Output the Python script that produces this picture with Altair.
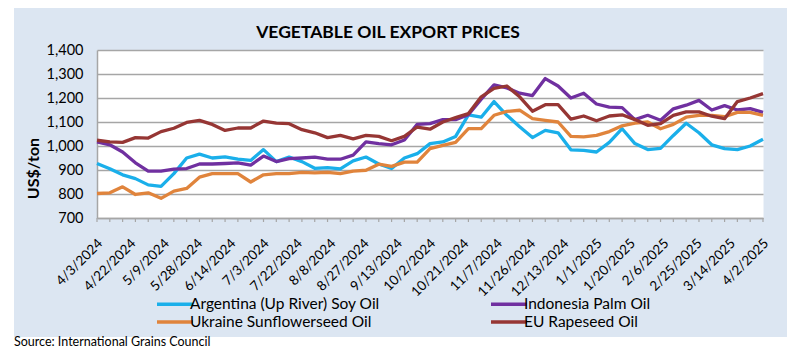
import altair as alt
import pandas as pd

# business-day index (0 = 4/3/2024 ... 260 = 4/2/2025), sampled every 5 days
day_index = list(range(0, 261, 5))

argentina = [927, 905, 880, 864, 838, 832, 885, 950, 966, 950,
             955, 945, 940, 985, 935, 954, 935, 907, 910, 905,
             938, 954, 925, 906, 950, 968, 1010, 1017, 1040, 1130,
             1120, 1185, 1128, 1080, 1035, 1065, 1055, 984, 982, 975,
             1015, 1072, 1010, 985, 990, 1044, 1095, 1055, 1005, 989,
             985, 1000, 1028]
indonesia = [1017, 1005, 975, 930, 895, 895, 904, 906, 925, 925,
             927, 930, 920, 958, 935, 947, 950, 954, 945, 945,
             962, 1017, 1010, 1005, 1025, 1090, 1093, 1110, 1110, 1130,
             1195, 1255, 1242, 1220, 1210, 1281, 1250, 1200, 1220, 1175,
             1162, 1160, 1110, 1128, 1107, 1155, 1170, 1190, 1150, 1168,
             1150, 1156, 1140]
ukraine = [802, 805, 830, 798, 805, 782, 812, 823, 870, 885,
           885, 885, 850, 880, 885, 885, 890, 888, 890, 885,
           895, 899, 924, 915, 933, 933, 989, 1003, 1015, 1072,
           1072, 1128, 1144, 1149, 1114, 1107, 1100, 1040, 1038, 1044,
           1060, 1084, 1095, 1100, 1072, 1090, 1120, 1128, 1128, 1122,
           1140, 1140, 1128]
eu_rapeseed = [1024, 1017, 1015, 1035, 1033, 1060, 1074, 1098, 1107, 1090,
               1065, 1075, 1075, 1104, 1095, 1093, 1068, 1055, 1035, 1044,
               1030, 1044, 1040, 1022, 1040, 1079, 1070, 1100, 1118, 1135,
               1205, 1240, 1250, 1205, 1145, 1172, 1172, 1112, 1125, 1105,
               1125, 1130, 1110, 1086, 1093, 1128, 1142, 1142, 1124, 1114,
               1185, 1200, 1218]

date_labels = ["4/3/2024", "4/22/2024", "5/9/2024", "5/28/2024", "6/14/2024",
               "7/3/2024", "7/22/2024", "8/8/2024", "8/27/2024", "9/13/2024",
               "10/2/2024", "10/21/2024", "11/7/2024", "11/26/2024", "12/13/2024",
               "1/1/2025", "1/20/2025", "2/6/2025", "2/25/2025", "3/14/2025",
               "4/2/2025"]
label_step = 13
minor_ticks = list(range(0, 261, 5))

series_names = ["Argentina (Up River) Soy Oil", "Indonesia Palm Oil",
                "Ukraine Sunflowerseed Oil", "EU Rapeseed Oil"]
series_colors = ["#1AAFEA", "#7030A0", "#E0843C", "#963634"]
series_values = [argentina, indonesia, ukraine, eu_rapeseed]
# legend fills column by column: left column Argentina/Ukraine, right column Indonesia/EU
legend_order = [0, 2, 1, 3]

for v in series_values:
    assert len(v) == len(day_index)

rows = []
for name, vals in zip(series_names, series_values):
    for i, v in zip(day_index, vals):
        rows.append({"idx": i, "value": v, "series": name})
df = pd.DataFrame(rows)

FONT = "Lato"
GRAY = "#A6A6A6"
PANEL = "#DCE6F2"
W, H = 666, 168
PAD_L, PAD_T, PAD_R = 89, 42, 28
TOTAL_H = 340
PAD_B = TOTAL_H - PAD_T - H

xscale = alt.Scale(domain=[0, 260], nice=False, zero=False)
yscale = alt.Scale(domain=[700, 1400], nice=False, zero=False)

js_labels = "[" + ",".join("'" + s + "'" for s in date_labels) + "]"

x_axis = alt.Axis(values=list(range(0, 261, label_step)),
                  labelExpr=js_labels + "[round(datum.value/13)]",
                  labelAngle=315, labelAlign="right", labelBaseline="middle",
                  labelPadding=23, labelOffset=3, ticks=False, grid=False,
                  domainColor=GRAY, domainWidth=1.5,
                  labelFont=FONT, labelFontSize=13.5, labelColor="#000",
                  labelOverlap=False, labelBound=False, labelFlush=False,
                  title=None)

one = pd.DataFrame({"a": [0]})

def strip(x1, x2, y1, y2):
    return alt.Chart(one).mark_rect(color="white").encode(
        x=alt.value(x1), x2=alt.value(x2), y=alt.value(y1), y2=alt.value(y2))

bottom_y = TOTAL_H - PAD_T
strips = [
    strip(-PAD_L, -PAD_L + 6, -PAD_T, bottom_y),
    strip(W + PAD_R - 4, W + PAD_R, -PAD_T, bottom_y),
    strip(-PAD_L, W + PAD_R, 287, bottom_y),
]

ticks = alt.Chart(pd.DataFrame({"idx": minor_ticks})).mark_rule(
    color=GRAY, strokeWidth=1.2).encode(
    x=alt.X("idx:Q", scale=xscale, axis=x_axis),
    y=alt.value(H), y2=alt.value(H + 4))

lines = alt.Chart(df).mark_line(strokeWidth=3.3, strokeJoin="round").encode(
    x=alt.X("idx:Q", scale=xscale, axis=x_axis),
    y=alt.Y("value:Q", scale=yscale,
            axis=alt.Axis(values=list(range(700, 1401, 100)), format=",d",
                          ticks=False, labelPadding=14, domainColor=GRAY, domainWidth=1.5,
                          grid=True, gridColor=GRAY, gridWidth=1.5,
                          labelFont=FONT, labelFontSize=14.5, labelColor="#000",
                          title="US$/ton", titleFont=FONT, titleFontSize=16,
                          titleFontWeight="bold", titleColor="#000",
                          titleAngle=270, titleX=-64, titleY=118,
                          titleAlign="center", titleBaseline="middle")),
    color=alt.Color("series:N",
                    scale=alt.Scale(domain=[series_names[k] for k in legend_order],
                                    range=[series_colors[k] for k in legend_order]),
                    legend=alt.Legend(title=None, orient="none", legendX=58, legendY=246,
                                      columns=2, symbolType="M-1,0L5,0", symbolSize=144,
                                      symbolStrokeWidth=3.5, labelFont=FONT,
                                      labelFontSize=15.5, labelColor="#000", labelLimit=400,
                                      columnPadding=104, rowPadding=1, labelOffset=19,
                                      padding=0)),
)

title = alt.Chart(one).mark_text(
    text="VEGETABLE OIL EXPORT PRICES", font=FONT, fontSize=17.5, fontWeight="bold",
    color="#000", align="center", baseline="alphabetic").encode(
    x=alt.value(291), y=alt.value(-12))

source = alt.Chart(one).mark_text(
    text="Source: International Grains Council", font=FONT, fontSize=12.5,
    color="#000", align="left", baseline="alphabetic").encode(
    x=alt.value(-83), y=alt.value(296))

chart = alt.layer(*strips, ticks, lines, title, source).properties(
    width=W, height=H,
    background=PANEL,
    padding={"left": PAD_L, "top": PAD_T, "right": PAD_R, "bottom": PAD_B},
    autosize=alt.AutoSizeParams(type="none"),
).configure_view(stroke="transparent", fill="white")

chart.save("out.html", embed_options={"renderer": "svg", "actions": False})
